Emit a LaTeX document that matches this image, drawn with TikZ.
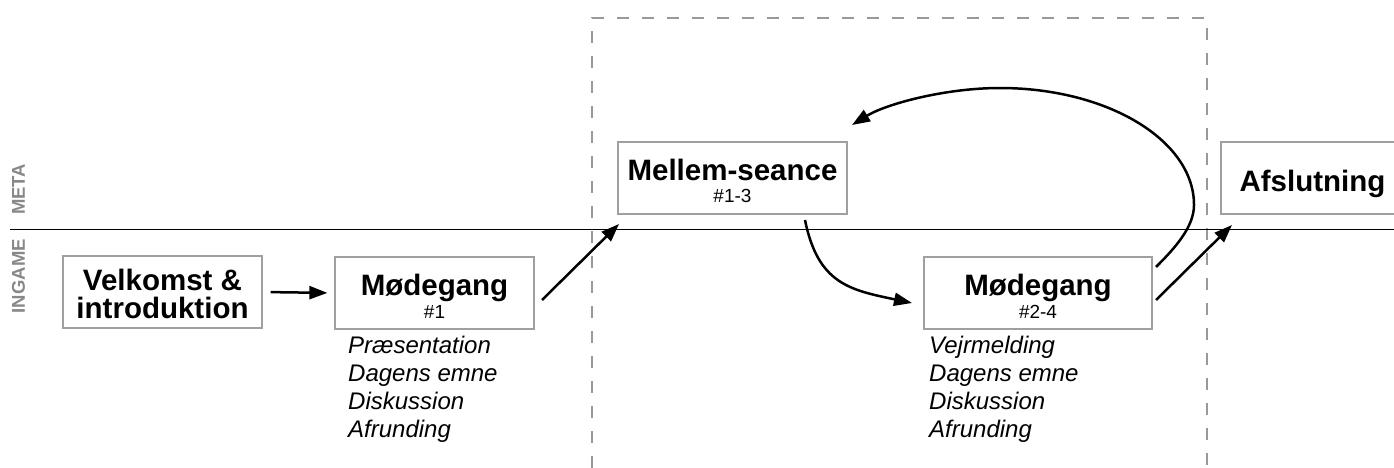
\documentclass[tikz,border=0pt]{standalone}
\usepackage{fontspec}
\setmainfont{Liberation Sans}
\usetikzlibrary{arrows.meta}
\definecolor{boxgray}{HTML}{A0A0A0}
\definecolor{labelgray}{HTML}{888888}
\definecolor{dashgray}{HTML}{999999}
\tikzset{
  box/.style={draw=boxgray, line width=1.3pt, minimum width=#1, minimum height=72pt, inner sep=0pt, anchor=center},
  ttl/.style={font=\fontsize{29.5}{29.5}\selectfont\bfseries, anchor=base, inner sep=0pt},
  sub/.style={font=\fontsize{19}{19}\selectfont, anchor=base, inner sep=0pt},
  item/.style={font=\fontsize{24}{24}\selectfont\itshape, anchor=base west, inner sep=0pt},
  lane/.style={font=\fontsize{18.5}{18.5}\selectfont\bfseries, text=labelgray, rotate=90, inner sep=0pt},
  conn/.style={line width=2.5pt, -{Triangle[length=18pt,width=13pt]}},
}
\begin{document}
\begin{tikzpicture}[x=1pt,y=-1pt]
\useasboundingbox (0,0) rectangle (1394,468);
% dashed frame
\draw[dashgray, line width=1.3pt, dash pattern=on 12pt off 13pt] (592,468) -- (592,18) -- (1207,18) -- (1207,468);
% separator
\draw[line width=1.3pt] (10,229.5) -- (1394,229.5);
\node[lane, anchor=west] (meta) at (18.5,215) {META};
\node[lane, anchor=east] (ingame) at (18.5,239) {INGAME};
% boxes
\node[box=199pt] (velk) at (162.5,292) {};
\node[ttl] (velk1) at (162.5,290) {Velkomst \&};
\node[ttl] (velk2) at (162.5,318) {introduktion};
\node[box=199pt] (m1) at (434.5,293) {};
\node[ttl] (m1t) at (434.5,295) {Mødegang};
\node[sub] (m1s) at (434.5,318) {\#1};
\node[box=229pt] (mel) at (732.5,178) {};
\node[ttl] (melt) at (732.5,180) {Mellem-seance};
\node[sub] (mels) at (732.5,202) {\#1-3};
\node[box=228pt] (m2) at (1038,293) {};
\node[ttl] (m2t) at (1038,295) {Mødegang};
\node[sub] (m2s) at (1038,318) {\#2-4};
\node[box=183pt] (afs) at (1312.5,178) {};
\node[ttl] (afst) at (1312.5,191) {Afslutning};
% lists
\foreach \t [count=\i] in {Præsentation, Dagens emne, Diskussion, Afrunding}
  \node[item] (la\i) at (348, 325+28*\i) {\t};
\foreach \t [count=\i] in {Vejrmelding, Dagens emne, Diskussion, Afrunding}
  \node[item] (lb\i) at (929, 325+28*\i) {\t};
% connectors
\draw[conn, shorten <=8pt, shorten >=7pt] (velk.east) -- (m1.west);
\coordinate (a2s) at (542,300);
\coordinate (a2e) at (619,224);
\draw[conn] (a2s) -- (a2e);
\coordinate (a3s) at (805,220);
\coordinate (a3e) at (912,303);
\draw[conn] (a3s) .. controls (818,284) and (850,290) .. (a3e);
\coordinate (a4s) at (1156,267);
\coordinate (a4e) at (852,125);
\draw[conn] (a4s) .. controls (1175,248) and (1194,227) .. (1194,205)
  .. controls (1194,140) and (1107,88) .. (1000,88)
  .. controls (945,88) and (886,104) .. (a4e);
\coordinate (a5s) at (1156,300);
\coordinate (a5e) at (1232,225);
\draw[conn] (a5s) -- (a5e);
\end{tikzpicture}
\end{document}
